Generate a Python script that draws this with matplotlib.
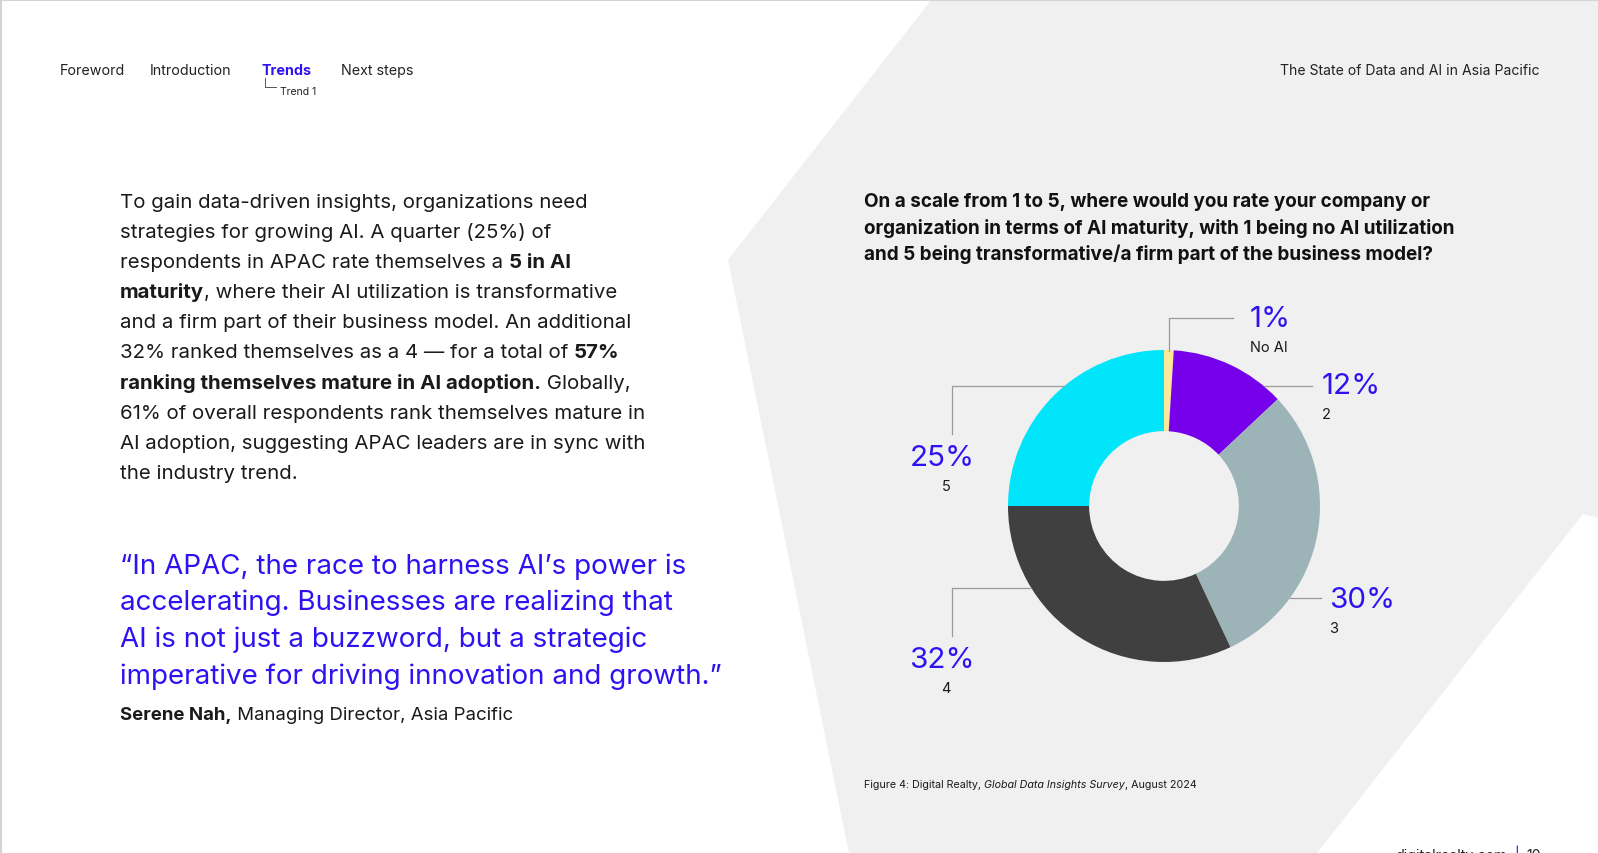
import matplotlib
matplotlib.use("Agg")
import matplotlib.pyplot as plt
from matplotlib.patches import Polygon

# canvas in pixels
W, H = 1598, 854
FONT = "Inter"
BLUE = "#2f12f2"
INK = "#1a1a1a"

# chart data
categories = ["No AI", "2", "3", "4", "5"]
shares = [1, 12, 30, 32, 25]
colors = ["#fbe899", "#7600ea", "#9cb4b7", "#404040", "#00e5f9"]

# page text
nav_items = ["Foreword", "Introduction", "Trends", "Next steps"]
nav_x = [60, 150, 262, 341]
header = "The State of Data and AI in Asia Pacific"
question = ["On a scale from 1 to 5, where would you rate your company or",
            "organization in terms of AI maturity, with 1 being no AI utilization",
            "and 5 being transformative/a firm part of the business model?"]
body_lines = [
    [("To gain data-driven insights, organizations need", False)],
    [("strategies for growing AI. A quarter (25%) of", False)],
    [("respondents in APAC rate themselves a ", False), ("5 in AI", True)],
    [("maturity", True), (", where their AI utilization is transformative", False)],
    [("and a firm part of their business model. An additional", False)],
    [("32% ranked themselves as a 4 \u2014 for a total of ", False), ("57%", True)],
    [("ranking themselves mature in AI adoption.", True), (" Globally,", False)],
    [("61% of overall respondents rank themselves mature in", False)],
    [("AI adoption, suggesting APAC leaders are in sync with", False)],
    [("the industry trend.", False)],
]
quote_lines = ["\u201cIn APAC, the race to harness AI\u2019s power is",
               "accelerating. Businesses are realizing that",
               "AI is not just a buzzword, but a strategic",
               "imperative for driving innovation and growth.\u201d"]


def Y(y):
    return H - y


fig = plt.figure(figsize=(W / 100, H / 100), dpi=100, facecolor="white")
ax = fig.add_axes([0, 0, 1, 1])
renderer = fig.canvas.get_renderer()

# grey background shape and page frame
bg = [(932, 0), (W, 0), (W, 519), (1583, 515), (1317, H), (849, H), (728, 261)]
ax.add_patch(Polygon([(x, Y(y)) for x, y in bg], closed=True, fc="#f0f0f0", ec="none", zorder=0))
ax.plot([0, W], [Y(0.5), Y(0.5)], color="#d4d4d4", lw=1.5, zorder=1)
ax.plot([0.5, 0.5], [0, H], color="#d4d4d4", lw=1.5, zorder=1)


def run_width(s, **kw):
    t = ax.text(0, 0, s + "|", **kw)
    w1 = t.get_window_extent(renderer).width
    t.remove()
    t = ax.text(0, 0, "|", **kw)
    w2 = t.get_window_extent(renderer).width
    t.remove()
    return w1 - w2


def draw_runs(x, y, runs, size, color=INK, style="normal"):
    for s, bold in runs:
        kw = dict(fontsize=size, family=FONT, color=color, style=style,
                  fontweight="bold" if bold else "normal")
        ax.text(x, Y(y), s, ha="left", va="baseline", **kw)
        x += run_width(s, **kw)


# navigation
for name, x in zip(nav_items, nav_x):
    active = name == "Trends"
    ax.text(x, Y(75), name, fontsize=10.3, family=FONT, va="baseline",
            color=BLUE if active else "#222222", fontweight="bold" if active else "normal")
ax.plot([265, 265, 276], [Y(79), Y(88), Y(88)], color="#555555", lw=0.7)
ax.text(280, Y(95), "Trend 1", fontsize=7.5, family=FONT, va="baseline", color="#222222")
ax.text(1539, Y(75), header, fontsize=10.1, family=FONT, va="baseline", ha="right", color="#222222")

# body copy
for i, runs in enumerate(body_lines):
    draw_runs(120, 208 + 30.1 * i, runs, 14.7)

for i, line in enumerate(quote_lines):
    ax.text(120, Y(573.5 + 36.7 * i), line, fontsize=20, family=FONT, color=BLUE, va="baseline")
draw_runs(120, 720, [("Serene Nah,", True), (" Managing Director, Asia Pacific", False)], 13.4)

# question title
for i, line in enumerate(question):
    ax.text(864, Y(207 + 26.5 * i), line, fontsize=13.6, family=FONT, fontweight="bold",
            color="#111111", va="baseline")

# donut
CX, CY, R = 1164, 507, 156
ax.pie(shares, colors=colors, startangle=90, counterclock=False, radius=R,
       center=(CX, Y(CY)), wedgeprops=dict(width=R * 0.52, edgecolor="none", linewidth=0))
ax.set_xlim(0, W)
ax.set_ylim(0, H)
ax.set_aspect("auto")
ax.axis("off")

LINE = dict(color="#9a9a9a", lw=0.9, zorder=1)


def ring_x(y, side):
    dy = CY - y
    return CX + side * (R * R - dy * dy) ** 0.5


# leader lines (elbow rows)
ax.plot([1168.5, 1168.5, 1233], [Y(352), Y(319), Y(319)], **LINE)
ax.plot([ring_x(387, 1), 1312], [Y(387), Y(387)], **LINE)
ax.plot([ring_x(599, 1), 1321], [Y(599), Y(599)], **LINE)
ax.plot([952, 952, ring_x(387, -1)], [Y(435), Y(387), Y(387)], **LINE)
ax.plot([952, 952, ring_x(589, -1)], [Y(637), Y(589), Y(589)], **LINE)

# labels: (x, baseline, align)
label_pos = [(1250, 327, "left"), (1322, 394, "left"), (1329, 608, "left"),
             (946, 668, "center"), (946, 466, "center")]
for cat, v, (x, yb, ha) in zip(categories, shares, label_pos):
    ax.text(x if ha == "left" else x - 4, Y(yb), f"{v}%", fontsize=21.3, family=FONT,
            color=BLUE, ha=ha, va="baseline")
    ax.text(x, Y(yb + 25), cat, fontsize=10.5, family=FONT, color=INK, ha=ha, va="baseline")

# source note
NOTE = 7.7
draw_runs(864, 788, [("Figure 4: Digital Realty, ", False)], NOTE)
x0 = 864 + run_width("Figure 4: Digital Realty, ", fontsize=NOTE, family=FONT)
kw = dict(fontsize=NOTE, family=FONT, style="italic")
ax.text(x0, Y(788), "Global Data Insights Survey", color=INK, va="baseline", **kw)
x0 += run_width("Global Data Insights Survey", **kw)
ax.text(x0, Y(788), ", August 2024", fontsize=NOTE, family=FONT, color=INK, va="baseline")

# footer (cut by page edge, as on the page)
ax.text(1507, Y(860), "digitalrealty.com", fontsize=10.2, family=FONT, color="#222222", ha="right", va="baseline")
ax.text(1517, Y(860), "|", fontsize=10.2, family=FONT, color=BLUE, ha="center", va="baseline")
ax.text(1526, Y(860), "10", fontsize=10.2, family=FONT, color="#222222", va="baseline")

fig.savefig("out.png", dpi=100, facecolor="white")
